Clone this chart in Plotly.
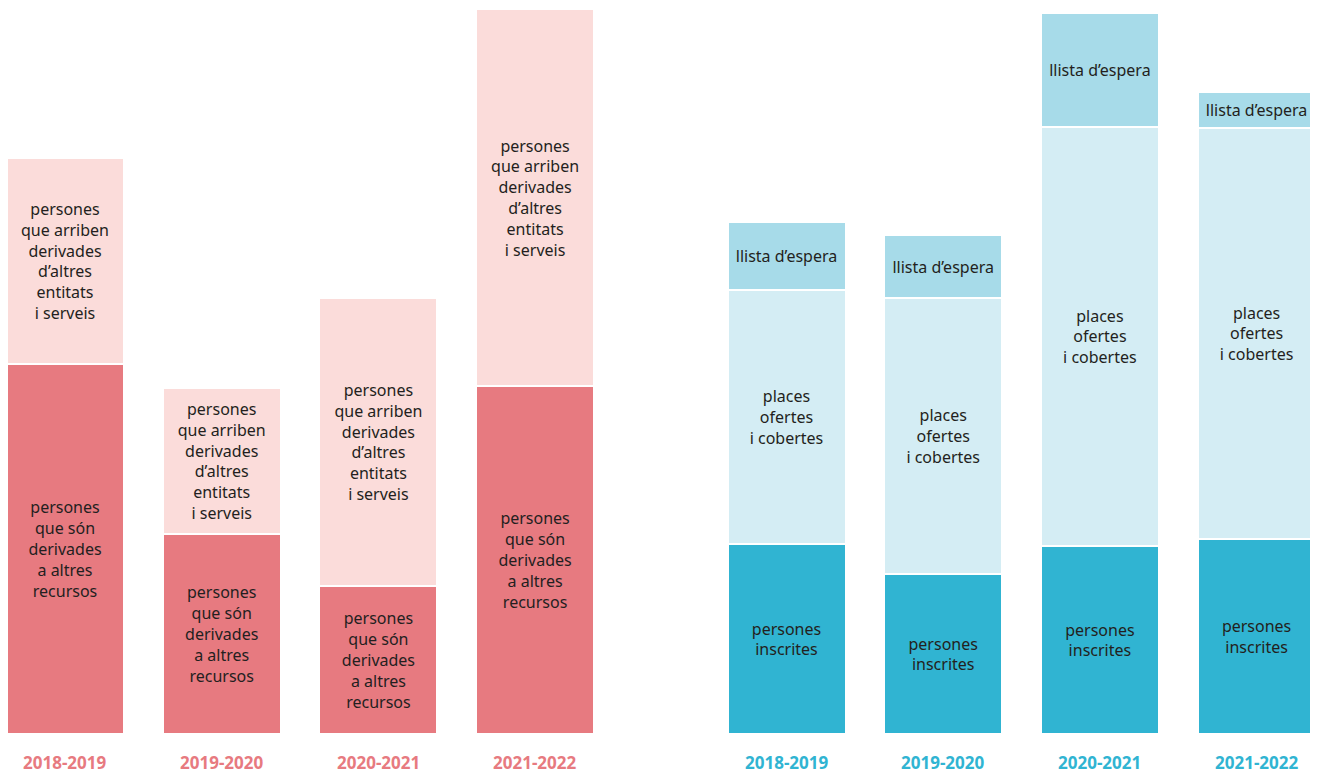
import plotly.graph_objects as go

# ---- data (arbitrary units) ----
seasons = ["2018-2019", "2019-2020", "2020-2021", "2021-2022"]

# left group: derivacions
derivades_a_altres = [370, 200, 148, 348]
arriben_derivades = [206, 146, 288, 377]

# right group: inscripcions
persones_inscrites = [190, 160, 188, 195]
places_ofertes = [254, 276, 419, 411]
llista_espera = [68, 63, 114, 36]

lbl_derivades_a = "persones<br>que són<br>derivades<br>a altres<br>recursos"
lbl_arriben = "persones<br>que arriben<br>derivades<br>d’altres<br>entitats<br>i serveis"
lbl_inscrites = "persones<br>inscrites"
lbl_places = "places<br>ofertes<br>i cobertes"
lbl_llista = "llista d’espera"

# ---- styling / layout ----
RED = "#e77a80"
PINK = "#fbdcda"
TEAL = "#30b4d2"
LTEAL = "#a7dbe9"
PALE = "#d4edf4"
TXT = "#231f20"
FONT = "Noto Sans"

OFF = 8                      # page body margin
W, H = 1318 - OFF, 773 - OFF
BASE = 734 - OFF             # baseline in figure pixels
BOTTOM = H - BASE
step = 156.7
left_start = 65 - OFF
right_start = 786.5 - OFF
bar_w = 118

x_left = [left_start + i * step for i in range(len(seasons))]
x_right = [right_start + i * step for i in range(len(seasons))]

fig = go.Figure()

def add(xs, ys, color, label):
    fig.add_trace(go.Bar(
        x=xs, y=ys, width=bar_w,
        marker=dict(color=color, line=dict(color="white", width=2)),
        text=[label] * len(ys), textposition="inside",
        insidetextanchor="middle", textangle=0,
        textfont=dict(family=FONT, size=16, color=TXT),
        hoverinfo="skip", showlegend=False,
    ))

add(x_left, derivades_a_altres, RED, lbl_derivades_a)
add(x_left, arriben_derivades, PINK, lbl_arriben)
add(x_right, persones_inscrites, TEAL, lbl_inscrites)
add(x_right, places_ofertes, PALE, lbl_places)
add(x_right, llista_espera, LTEAL, lbl_llista)

plot_h = BASE
for xs, col in ((x_left, RED), (x_right, TEAL)):
    for xv, s in zip(xs, seasons):
        fig.add_annotation(
            x=xv, xref="x", y=-28 / plot_h, yref="paper",
            text=f"<b>{s}</b>", showarrow=False,
            font=dict(family="Open Sans", size=17, color=col),
            xanchor="center", yanchor="middle",
        )

fig.update_layout(
    width=W, height=H,
    barmode="stack",
    margin=dict(l=0, r=0, t=0, b=BOTTOM),
    paper_bgcolor="white", plot_bgcolor="white",
    uniformtext=dict(mode="show", minsize=8),
    xaxis=dict(range=[0, W], visible=False, fixedrange=True),
    yaxis=dict(range=[0, plot_h], visible=False, fixedrange=True),
)

fig.write_html("out.html")
